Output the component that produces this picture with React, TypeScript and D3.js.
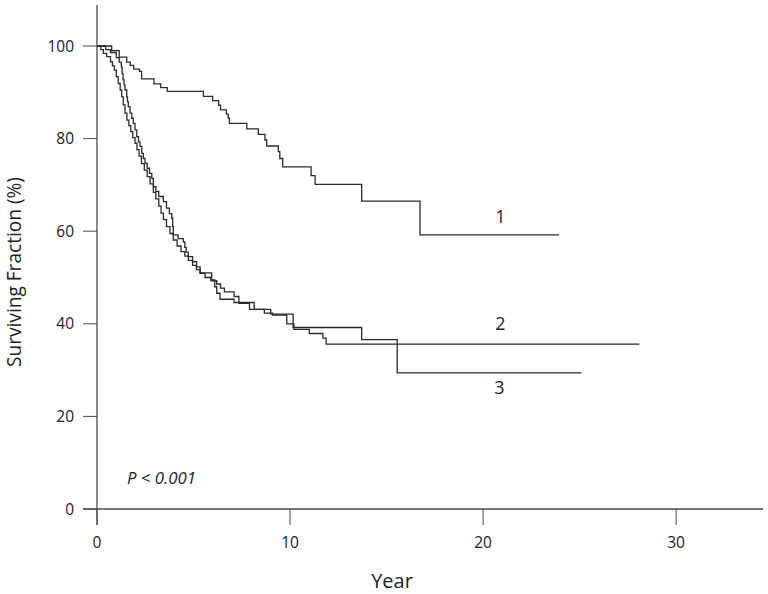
import React from "react";
import * as d3 from "d3";

// ---- data ----
const xTicks = [0, 10, 20, 30];
const yTicks = [0, 20, 40, 60, 80, 100];

// Curve 1 : step times (years) and surviving fraction after each step (%)
const c1Times = [0, 0.76, 1.15, 1.54, 1.72, 1.9, 2.2, 2.31, 2.95, 3.3, 3.64, 5.51, 5.99, 6.3, 6.4, 6.7, 6.8, 6.86, 7.76, 8.36, 8.7, 8.79, 9.39, 9.47, 9.62, 11.09, 11.3, 13.71, 16.73];
const c1Values = [100, 99.0, 97.6, 96.5, 95.8, 95.0, 94.5, 92.9, 91.8, 91.0, 90.2, 89.1, 88.2, 87.2, 86.2, 85.3, 84.4, 83.3, 82.1, 80.9, 79.7, 78.4, 77.2, 75.7, 73.9, 72.0, 70.1, 66.5, 59.2];
const c1End = 23.94;

// Curve 2
const c2Times = [0, 0.45, 0.7, 1.0, 1.15, 1.26, 1.3, 1.35, 1.4, 1.45, 1.54, 1.58, 1.62, 1.71, 1.8, 1.88, 1.97, 2.06, 2.15, 2.23, 2.32, 2.4, 2.49, 2.6, 2.72, 2.84, 2.92, 3.05, 3.2, 3.44, 3.6, 3.75, 3.87, 3.92, 3.95, 4.2, 4.47, 4.55, 4.62, 4.73, 4.95, 5.16, 5.34, 5.94, 6.1, 6.2, 6.37, 7.1, 8.14, 8.67, 9.1, 9.83, 10.2, 11.0, 11.7, 11.87];
const c2Values = [100, 99.2, 98.6, 97.5, 96.5, 95.5, 94.0, 92.7, 91.6, 90.5, 89.0, 88.0, 86.9, 85.5, 84.4, 83.3, 81.9, 80.4, 79.3, 78.3, 76.8, 75.7, 74.7, 73.6, 72.5, 71.4, 69.6, 68.6, 67.5, 66.4, 65.0, 63.8, 62.8, 61.0, 59.2, 58.4, 57.7, 56.5, 55.5, 54.5, 53.4, 52.3, 51.0, 49.5, 48.0, 46.6, 45.3, 44.6, 43.1, 42.3, 41.9, 40.0, 38.8, 37.9, 36.9, 35.6];
const c2End = 28.1;

// Curve 3
const c3Times = [0, 0.2, 0.33, 0.5, 0.7, 0.8, 0.9, 1.0, 1.1, 1.2, 1.28, 1.36, 1.45, 1.55, 1.65, 1.75, 1.85, 1.97, 2.07, 2.18, 2.3, 2.45, 2.6, 2.75, 2.92, 3.05, 3.2, 3.32, 3.44, 3.6, 3.78, 3.95, 4.15, 4.35, 4.55, 4.73, 4.95, 5.15, 5.34, 5.6, 5.9, 6.2, 6.4, 6.6, 7.1, 7.35, 7.9, 9.0, 10.16, 13.71, 15.55];
const c3Values = [100, 99.2, 98.4, 97.7, 96.6, 95.7, 94.8, 93.4, 91.9, 90.5, 89.0, 87.3, 85.5, 84.0, 82.8, 81.5, 80.2, 79.0, 77.6, 76.2, 74.6, 73.2, 71.8, 70.2, 68.4, 67.0, 65.4, 63.9, 62.5, 61.0, 59.5, 58.1, 56.8, 55.6, 54.6, 53.7, 52.6, 51.7, 50.9, 50.0, 49.3, 48.6, 47.7, 46.9, 45.9, 44.4, 43.1, 42.1, 39.2, 36.6, 29.4];
const c3End = 25.1;

const curveLabels = ["1", "2", "3"];
const labelPos = [
  { t: 20.9, v: 61.8 },
  { t: 20.9, v: 38.6 },
  { t: 20.85, v: 24.9 },
];

function toPoints(times: number[], values: number[], end: number) {
  const pts = times.map((t, i) => [t, values[i]] as [number, number]);
  pts.push([end, values[values.length - 1]]);
  return pts;
}

export default function App() {
  const W = 768, H = 594;
  const x = d3.scaleLinear().domain([0, 34.5]).range([97, 763]);
  const y = d3.scaleLinear().domain([0, 100]).range([509, 46]);
  const line = d3.line<[number, number]>().x(d => x(d[0])).y(d => y(d[1])).curve(d3.curveStepAfter);
  const curves = [
    toPoints(c1Times, c1Values, c1End),
    toPoints(c2Times, c2Values, c2End),
    toPoints(c3Times, c3Values, c3End),
  ];
  const axisColor = "#4a4a4a";
  const font = "'Open Sans', 'Noto Sans', sans-serif";
  return (
    <svg width={W} height={H} style={{ position: "absolute", left: 0, top: 0, background: "#fff" }}>
      {/* axes */}
      <line x1={83} x2={763} y1={y(0)} y2={y(0)} stroke={axisColor} strokeWidth={1.3} />
      <line x1={x(0)} x2={x(0)} y1={5} y2={525} stroke={axisColor} strokeWidth={1.3} />
      {yTicks.map(v => (
        <g key={"y" + v}>
          <line x1={83} x2={x(0)} y1={y(v)} y2={y(v)} stroke={axisColor} strokeWidth={1} />
          <text x={74} y={y(v) + 5.5} textAnchor="end" fontSize={15.5} fill="#222" fontFamily={font}>{v}</text>
        </g>
      ))}
      {xTicks.map(t => (
        <g key={"x" + t}>
          <line x1={x(t)} x2={x(t)} y1={y(0)} y2={525} stroke={axisColor} strokeWidth={1} />
          <text x={x(t)} y={547.5} textAnchor="middle" fontSize={15.5} fill="#222" fontFamily={font}>{t}</text>
        </g>
      ))}
      <text x={392} y={588} textAnchor="middle" fontSize={20} fill="#222" fontFamily={font}>Year</text>
      <text transform="translate(21,272) rotate(-90)" textAnchor="middle" fontSize={19.5} fill="#222" fontFamily={font}
        textLength={190} lengthAdjust="spacingAndGlyphs">Surviving Fraction (%)</text>
      <text x={127} y={484} fontSize={16} fontStyle="italic" fill="#222" fontFamily={font}
        textLength={69} lengthAdjust="spacingAndGlyphs">P &lt; 0.001</text>
      {curves.map((c, i) => (
        <path key={"c" + i} d={line(c) || ""} fill="none" stroke="#2a2a2a" strokeWidth={1.3} />
      ))}
      {curveLabels.map((l, i) => (
        <text key={"l" + i} x={x(labelPos[i].t)} y={y(labelPos[i].v)} textAnchor="middle" fontSize={18} fill="#222" fontFamily={font}>{l}</text>
      ))}
    </svg>
  );
}
